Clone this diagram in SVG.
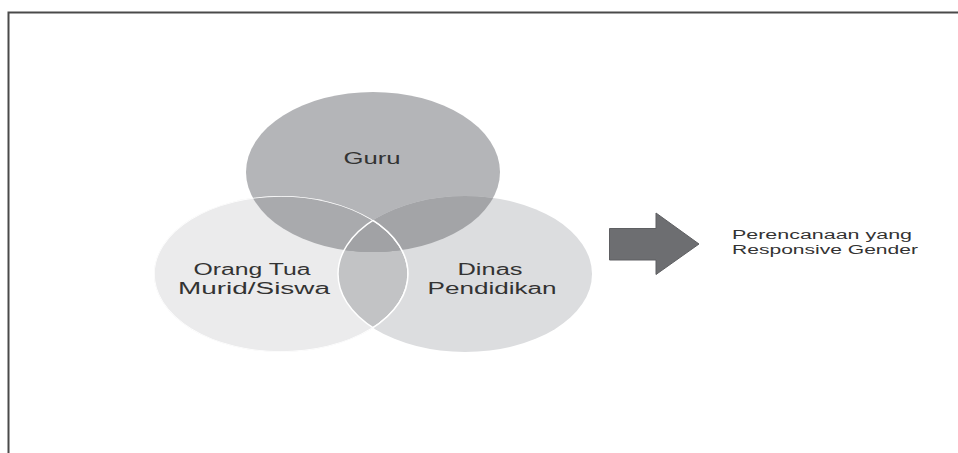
<svg xmlns="http://www.w3.org/2000/svg" width="958" height="453" viewBox="0 0 958 453">
<style>
.lbl{font-family:"Liberation Sans",Arial,sans-serif;font-size:16px;fill:#333333;text-anchor:middle}
.side{font-family:"Liberation Sans",Arial,sans-serif;font-size:12.5px;fill:#333333}
.edge{fill:none;stroke:#ffffff;stroke-width:1.5}
</style>
<defs>
<clipPath id="cL"><ellipse cx="281" cy="274" rx="127" ry="78"/></clipPath>
<clipPath id="cR"><ellipse cx="465" cy="274" rx="127" ry="78"/></clipPath>
</defs>
<rect width="958" height="453" fill="#ffffff"/>
<path d="M8.5 453 V12.5 H958" fill="none" stroke="#4a4a4a" stroke-width="2"/>
<g id="guru">
<ellipse cx="373" cy="172" rx="127" ry="80" fill="#b4b5b8"/>
</g>
<g id="orang-tua">
<ellipse cx="281" cy="274" rx="127" ry="78" fill="#ebebec"/>
</g>
<g id="dinas">
<ellipse cx="465" cy="274" rx="127" ry="78" fill="#dcdddf"/>
</g>
<g id="overlaps">
<ellipse cx="465" cy="274" rx="127" ry="78" fill="#c2c3c5" clip-path="url(#cL)"/>
<ellipse cx="373" cy="172" rx="127" ry="80" fill="#a9aaad" clip-path="url(#cL)"/>
<ellipse cx="373" cy="172" rx="127" ry="80" fill="#a3a4a7" clip-path="url(#cR)"/>
<g clip-path="url(#cL)"><ellipse cx="373" cy="172" rx="127" ry="80" fill="#a1a2a5" clip-path="url(#cR)"/></g>
<ellipse class="edge" cx="281" cy="274" rx="127" ry="78" clip-path="url(#cR)"/>
<ellipse class="edge" cx="465" cy="274" rx="127" ry="78" clip-path="url(#cL)"/>
<g clip-path="url(#cL)"><ellipse class="edge" cx="281" cy="274" rx="127" ry="78"/></g>
</g>
<g id="labels">
<text class="lbl" x="372" y="164" textLength="57" lengthAdjust="spacingAndGlyphs">Guru</text>
<text class="lbl" x="252" y="275" textLength="117" lengthAdjust="spacingAndGlyphs">Orang Tua</text>
<text class="lbl" x="254" y="294" textLength="152" lengthAdjust="spacingAndGlyphs">Murid/Siswa</text>
<text class="lbl" x="490" y="275" textLength="65" lengthAdjust="spacingAndGlyphs">Dinas</text>
<text class="lbl" x="492" y="294" textLength="129" lengthAdjust="spacingAndGlyphs">Pendidikan</text>
</g>
<g id="connectors">
<path d="M609.5 228.5 H656 V213 L699 244 L656 274.5 V260 H609.5 Z" fill="#6d6e71" stroke="#5e5f62" stroke-width="1"/>
</g>
<g id="result">
<text class="side" x="732" y="239" textLength="180" lengthAdjust="spacingAndGlyphs">Perencanaan yang</text>
<text class="side" x="732" y="254" textLength="186" lengthAdjust="spacingAndGlyphs">Responsive Gender</text>
</g>
</svg>
